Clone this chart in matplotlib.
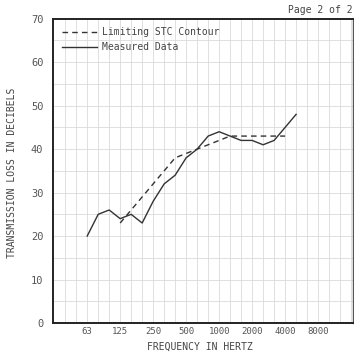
import matplotlib.pyplot as plt
import numpy as np

# one-third octave bands (nominal)
bands = [63, 80, 100, 125, 160, 200, 250, 315, 400, 500, 630, 800,
         1000, 1250, 1600, 2000, 2500, 3150, 4000, 5000]
measured = [20, 25, 26, 24, 25, 23, 28, 32, 34, 38, 40, 43,
            44, 43, 42, 42, 41, 42, 45, 48]
stc_bands = [125, 160, 200, 250, 315, 400, 500, 630, 800,
             1000, 1250, 1600, 2000, 2500, 3150, 4000]
stc_values = [23, 26, 29, 32, 35, 38, 39, 40, 41, 42, 43, 43, 43, 43, 43, 43]
tick_labels = ['63', '125', '250', '500', '1000', '2000', '4000', '8000']

# position of each band: one unit per third octave, 63 Hz at 0
def band_pos(f):
    return np.round(3 * np.log2(np.asarray(f) / 63.0))

plt.rcParams['font.family'] = ['DejaVu Sans Mono']
ink = '#333333'

fig = plt.figure(figsize=(3.54, 3.53), dpi=100)
ax = fig.add_axes([0.150, 0.085, 0.848, 0.862])

ax.set_xlim(-3.1, 24.2)
ax.set_ylim(0, 70)

for x in range(-2, 25):
    ax.axvline(x, color='#dadada', lw=0.6, zorder=0)
for y in range(5, 70, 5):
    ax.axhline(y, color='#dadada', lw=0.6, zorder=0)

ax.plot(band_pos(stc_bands), stc_values, color=ink, lw=1.0,
        ls=(0, (4, 3)), label='Limiting STC Contour')
ax.plot(band_pos(bands), measured, color=ink, lw=1.0, label='Measured Data')

tick_freqs = [int(t) for t in tick_labels]
ax.set_xticks(band_pos(tick_freqs))
ax.set_xticklabels(tick_labels, fontsize=6.5, color='#555555')
ax.set_yticks(range(0, 71, 10))
ax.set_yticklabels([str(v) for v in range(0, 71, 10)], fontsize=7.5, color='#555555')
ax.tick_params(axis='x', length=0, pad=3)
ax.tick_params(axis='y', length=0, pad=7)

for s in ['left', 'bottom', 'top']:
    ax.spines[s].set_linewidth(1.4)
    ax.spines[s].set_color('#222222')
ax.spines['right'].set_linewidth(1.0)
ax.spines['right'].set_color('#555555')

fig.text(0.565, 0.017, 'FREQUENCY IN HERTZ', ha='center', va='center',
         fontsize=7, color='#444444')
fig.text(0.034, 0.51, 'TRANSMISSION LOSS IN DECIBELS', ha='center', va='center',
         rotation=90, fontsize=7, color='#444444')

leg = ax.legend(loc='upper left', frameon=False, fontsize=7, handlelength=3.6,
                labelspacing=0.5, borderaxespad=0.5, handletextpad=0.5)
for t in leg.get_texts():
    t.set_color('#444444')

fig.text(0.997, 0.985, 'Page 2 of 2', ha='right', va='top', fontsize=7, color='#444444')

fig.savefig('out.png', dpi=100, facecolor='white')
